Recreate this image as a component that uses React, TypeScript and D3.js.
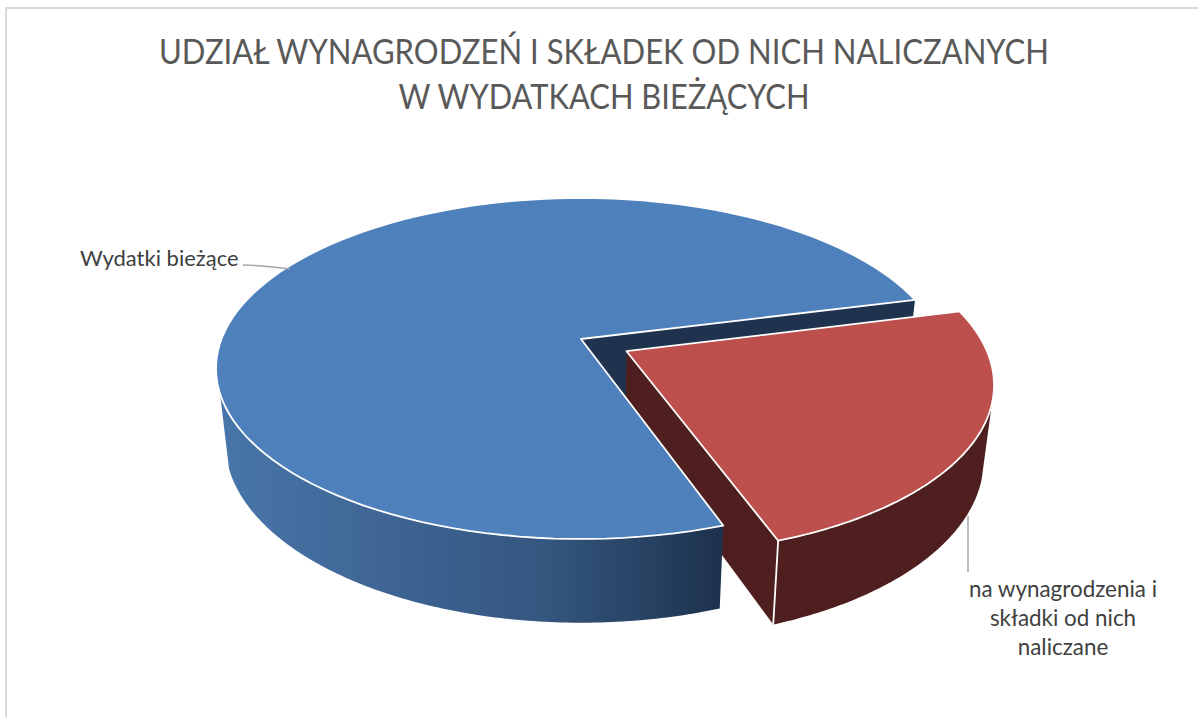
import React from 'react';
import * as d3 from 'd3';

const categories = ['na wynagrodzenia i składki od nich naliczane', 'Wydatki bieżące'];
const shares = [23.6, 76.4];
const titleLines = ['UDZIAŁ WYNAGRODZEŃ I SKŁADEK OD NICH NALICZANYCH', 'W WYDATKACH BIEŻĄCYCH'];
const titleWidths = [890, 411];
const redLabelLines = ['na wynagrodzenia i', 'składki od nich', 'naliczane'];

const rad = (deg: number) => (deg * Math.PI) / 180;

// pie starts where the red slice starts, both go clockwise from 12 o'clock
const pieGen = d3.pie<number>().sort(null).startAngle(rad(75.7)).endAngle(rad(75.7 + 360));
const [redArc, blueArc] = pieGen(shares);

// perspective of the pie disc
const cx = 581;
const q = 0.173;
const rx = 359.5;
const topY = 339;
const topRy = 165.4;
const bottomX = 0.975;
const bottomY0 = 411;
const bottomRy = 104;

type Pt = [number, number];
type Place = { u: number; v: number; r: number };

const topPoint = (u: number, v: number): Pt => {
  const w = 1 + q * v;
  return [cx + (rx * u) / w, topY - (topRy * v) / w];
};
const bottomPoint = (u: number, v: number): Pt => {
  const w = 1 + q * v;
  return [cx + (bottomX * rx * u) / w, (bottomY0 - bottomRy * v) / w];
};

const exploded: Place = { u: 0.125, v: -0.073, r: 0.99 };
const inPlace: Place = { u: 0, v: 0, r: 1 };

const onDisc = (angle: number, at: Place) => ({
  u: at.r * Math.sin(angle) + at.u,
  v: at.r * Math.cos(angle) + at.v,
});

const sampleAngles = (from: number, to: number) => {
  const n = 120;
  return d3.range(n + 1).map(i => from + ((to - from) * i) / n);
};

const line = d3.line<Pt>().x(d => d[0]).y(d => d[1]);

const rimPoints = (
  from: number,
  to: number,
  at: Place,
  proj: (u: number, v: number) => Pt
) =>
  sampleAngles(from, to).map(a => {
    const p = onDisc(a, at);
    return proj(p.u, p.v);
  });

const sliceTop = (from: number, to: number, at: Place) =>
  line([topPoint(at.u, at.v), ...rimPoints(from, to, at, topPoint)]) + 'Z';

const wall = (from: number, to: number, at: Place) =>
  line([
    ...rimPoints(from, to, at, topPoint),
    ...rimPoints(from, to, at, bottomPoint).reverse(),
  ]) + 'Z';

const cutFace = (angle: number, at: Place) => {
  const p = onDisc(angle, at);
  return (
    line([
      topPoint(at.u, at.v),
      topPoint(p.u, p.v),
      bottomPoint(p.u, p.v),
      bottomPoint(at.u, at.v),
    ]) + 'Z'
  );
};

// only the front part of the rim is visible
const blueWallEnd = rad(251.7);
const redWallStart = rad(107.2);

const redNear = onDisc(redArc.endAngle, exploded);

const font = 'Lato, "Open Sans", sans-serif';

const App = () => {
  return (
    <svg
      width={1198}
      height={717}
      style={{ position: 'absolute', left: 0, top: 0, background: '#fff' }}
    >
      <defs>
        <linearGradient id="blueWall" gradientUnits="userSpaceOnUse" x1={218} x2={723} y1={0} y2={0}>
          <stop offset="0" stopColor="#4876aa" />
          <stop offset="0.35" stopColor="#3e6493" />
          <stop offset="0.65" stopColor="#34567f" />
          <stop offset="1" stopColor="#1d324d" />
        </linearGradient>
      </defs>

      <path d="M6,717V8H1198" fill="none" stroke="#d9d9d9" strokeWidth={2} />

      {titleLines.map((t, i) => (
        <text
          key={t}
          x={604}
          y={64 + i * 45}
          textAnchor="middle"
          textLength={titleWidths[i]}
          lengthAdjust="spacingAndGlyphs"
          fontFamily={font}
          fontSize={35}
          fill="#595959"
        >
          {t}
        </text>
      ))}

      {/* back to front */}
      <path d={cutFace(blueArc.endAngle, inPlace)} fill="#1f334f" />
      <path d={cutFace(redArc.endAngle, exploded)} fill="#4e1f1e" />
      <path d={wall(blueArc.startAngle, blueWallEnd, inPlace)} fill="url(#blueWall)" />
      <path
        d={sliceTop(blueArc.startAngle, blueArc.endAngle, inPlace)}
        fill="#4e80bc"
        stroke="#fff"
        strokeWidth={1.8}
        strokeLinejoin="round"
      />
      <path d={wall(redWallStart, redArc.endAngle, exploded)} fill="#4e1f1e" />
      <path
        d={line([topPoint(redNear.u, redNear.v), bottomPoint(redNear.u, redNear.v)]) ?? ''}
        stroke="#fff"
        strokeWidth={1.8}
      />
      <path
        d={sliceTop(redArc.startAngle, redArc.endAngle, exploded)}
        fill="#bd4f4c"
        stroke="#fff"
        strokeWidth={1.8}
        strokeLinejoin="round"
      />

      {/* leader lines */}
      <path d="M243,265C258,265 274,267 290,269" fill="none" stroke="#a6a6a6" strokeWidth={1.5} />
      <path d="M968,516V572" fill="none" stroke="#a6a6a6" strokeWidth={1.5} />

      <text x={80} y={266} fontFamily={font} fontSize={22} fill="#404040">
        {categories[1]}
      </text>
      {redLabelLines.map((t, i) => (
        <text
          key={t}
          x={1063}
          y={597 + i * 29}
          textAnchor="middle"
          fontFamily={font}
          fontSize={22.4}
          fill="#404040"
        >
          {t}
        </text>
      ))}
    </svg>
  );
};

export default App;
